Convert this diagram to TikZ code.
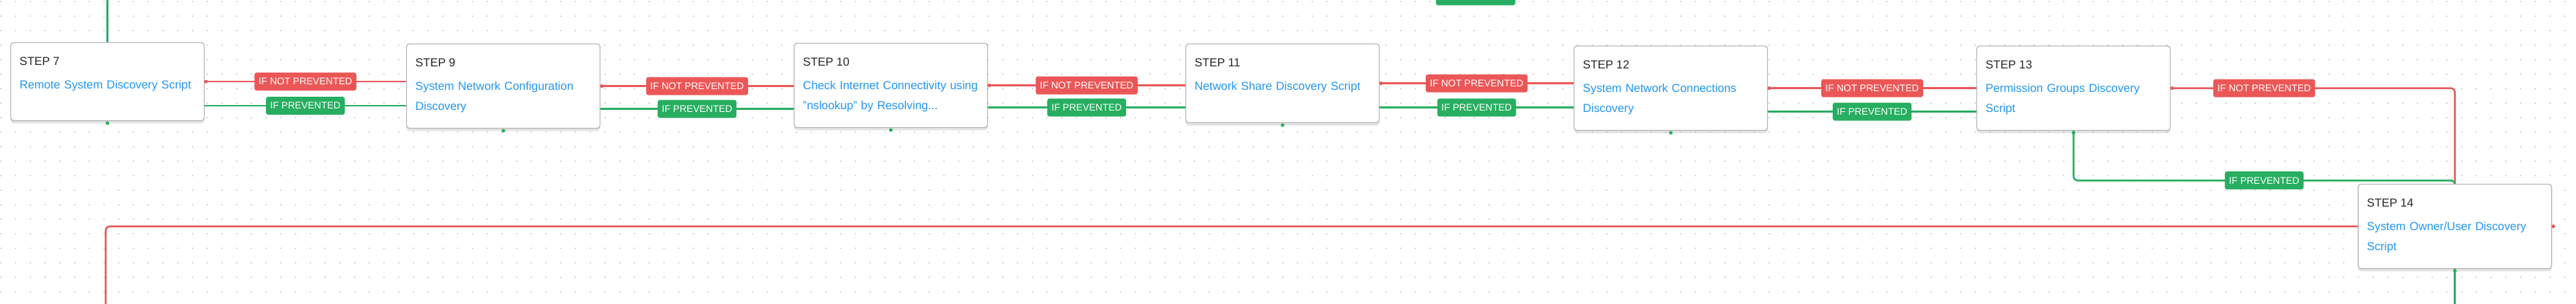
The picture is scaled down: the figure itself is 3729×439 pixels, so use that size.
\documentclass[tikz,border=0pt]{standalone}
\usepackage{fontspec}
\setmainfont{Liberation Sans}
\usepackage{xcolor}
\definecolor{linkblue}{HTML}{2196F3}
\definecolor{okgreen}{HTML}{27AE60}
\definecolor{failred}{HTML}{EB5757}
\usetikzlibrary{calc,positioning,shadows}

\pgfdeclarelayer{dots}
\pgfdeclarelayer{wires}
\pgfsetlayers{dots,wires,main}

\begin{document}
\begin{tikzpicture}[x=0.5pt, y=-0.5pt,
    stepbox/.style={draw=black!30, line width=0.6pt, fill=white, rounded corners=2pt,
        minimum width=140pt, inner sep=0pt, anchor=north west,
        drop shadow={shadow xshift=0pt, shadow yshift=-2pt, opacity=0.22}},
    steptitle/.style={anchor=base west, inner sep=0pt, text=black!85, font=\fontsize{8.4}{10}\selectfont},
    stepdesc/.style={anchor=base west, inner sep=0pt, text=linkblue, text width=135pt, align=left,
        font=\fontsize{8.4}{14.5}\selectfont},
    wire/.style={line width=1.3pt, rounded corners=3pt},
    redwire/.style={wire, failred},
    greenwire/.style={wire, okgreen},
    tag/.style={text=white, font=\fontsize{7}{8}\selectfont, inner xsep=3pt, inner ysep=0pt,
        minimum height=13pt, rounded corners=1.5pt},
    redtag/.style={tag, fill=failred},
    greentag/.style={tag, fill=okgreen}]
    		\useasboundingbox (0,0) rectangle (3729,439);

    		% Dotted canvas
    		\begin{pgfonlayer}{dots}
    			\fill[white] (0,0) rectangle (3729,439);
    			\foreach \i in {0,...,174}
    			\foreach \j in {0,...,20}
    			\fill[black!30] (1.3+21.33*\i, 2.3+21*\j) circle (0.45pt);
    		\end{pgfonlayer}

    		% Step boxes
    		\node[stepbox, minimum height=56.5pt] (s7) at (15,61) {};
    		\node[stepbox, minimum height=61pt] (s9) at (588,63) {};
    		\node[stepbox, minimum height=61pt] (s10) at (1149,62) {};
    		\node[stepbox, minimum height=57pt] (s11) at (1716,63) {};
    		\node[stepbox, minimum height=61pt] (s12) at (2278,66) {};
    		\node[stepbox, minimum height=61pt] (s13) at (2861,66) {};
    		\node[stepbox, minimum height=61pt] (s14) at (3413,266) {};

    		% Step texts
    		\node[steptitle] (t7) at ($(s7.north west)+(13,33)$) {STEP 7};
    		\node[stepdesc] (d7) at ($(s7.north west)+(13,67)$) {Remote System Discovery Script};
    		\node[steptitle] (t9) at ($(s9.north west)+(13,33)$) {STEP 9};
    		\node[stepdesc] (d9) at ($(s9.north west)+(13,67)$) {System Network Configuration\\Discovery};
    		\node[steptitle] (t10) at ($(s10.north west)+(13,33)$) {STEP 10};
    		\node[stepdesc] (d10) at ($(s10.north west)+(13,67)$) {Check Internet Connectivity using\\"nslookup" by Resolving...};
    		\node[steptitle] (t11) at ($(s11.north west)+(13,33)$) {STEP 11};
    		\node[stepdesc] (d11) at ($(s11.north west)+(13,67)$) {Network Share Discovery Script};
    		\node[steptitle] (t12) at ($(s12.north west)+(13,33)$) {STEP 12};
    		\node[stepdesc] (d12) at ($(s12.north west)+(13,67)$) {System Network Connections\\Discovery};
    		\node[steptitle] (t13) at ($(s13.north west)+(13,33)$) {STEP 13};
    		\node[stepdesc] (d13) at ($(s13.north west)+(13,67)$) {Permission Groups Discovery\\Script};
    		\node[steptitle] (t14) at ($(s14.north west)+(13,33)$) {STEP 14};
    		\node[stepdesc] (d14) at ($(s14.north west)+(13,67)$) {System Owner/User Discovery\\Script};

    		% Free ends of the wires
    		\coordinate (in7) at (s7.north |- 0,0);
    		\coordinate (g7) at ($(s7.east)+(0,35)$);
    		\coordinate (g9) at ($(s9.east)+(0,33)$);
    		\coordinate (g10) at ($(s10.east)+(0,32)$);
    		\coordinate (g11) at ($(s11.east)+(0,35)$);
    		\coordinate (g12) at ($(s12.east)+(0,34)$);
    		\coordinate (g13) at ($(s13.south)+(0,72)$);
    		\coordinate (out14r) at (153,470);
    		\coordinate (out14g) at (s14.south |- 0,470);

    		\begin{pgfonlayer}{wires}
    			% Wire from above, and the foot of a tag from the row above
    			\draw[greenwire] (in7) -- (s7.north);
    			\node[greentag, minimum width=57.5pt] (gtop) at (2136,-5.5) {};

    			% Step 7 -> Step 9
    			\draw[redwire] (s7.east) -- (s7.east -| s9.west) node[redtag, midway] (r7) {IF NOT PREVENTED};
    			\draw[greenwire] (g7) -- (g7 -| s9.west) node[greentag, midway] (p7) {IF PREVENTED};

    			% Step 9 -> Step 10
    			\draw[redwire] (s9.east) -- (s9.east -| s10.west) node[redtag, midway] (r9) {IF NOT PREVENTED};
    			\draw[greenwire] (g9) -- (g9 -| s10.west) node[greentag, midway] (p9) {IF PREVENTED};

    			% Step 10 -> Step 11
    			\draw[redwire] (s10.east) -- (s10.east -| s11.west) node[redtag, midway] (r10) {IF NOT PREVENTED};
    			\draw[greenwire] (g10) -- (g10 -| s11.west) node[greentag, midway] (p10) {IF PREVENTED};

    			% Step 11 -> Step 12
    			\draw[redwire] (s11.east) -- (s11.east -| s12.west) node[redtag, midway] (r11) {IF NOT PREVENTED};
    			\draw[greenwire] (g11) -- (g11 -| s12.west) node[greentag, midway] (p11) {IF PREVENTED};

    			% Step 12 -> Step 13
    			\draw[redwire] (s12.east) -- (s12.east -| s13.west) node[redtag, midway] (r12) {IF NOT PREVENTED};
    			\draw[greenwire] (g12) -- (g12 -| s13.west) node[greentag, midway] (p12) {IF PREVENTED};

    			% Step 13 -> Step 14 (down the right side)
    			\draw[redwire] (s13.east) -- (s13.east -| s14.north) -- (s14.north);
    			\node[redtag] (r13) at ($(s13.east)!0.5!(s13.east -| s14.west)$) {IF NOT PREVENTED};
    			\draw[greenwire] (s13.south) -- (g13) -- (g13 -| s14.north) -- (s14.north);
    			\node[greentag] (p13) at (g13 -| r13) {IF PREVENTED};

    			% Step 14 -> next row
    			\draw[redwire] (s14.east) -- (s14.east -| out14r) -- (out14r);
    			\draw[greenwire] (s14.south) -- (out14g);
    		\end{pgfonlayer}

    		% Ports
    		\foreach \s in {s7,s9,s10,s11,s12,s13,s14} {
    			\fill[failred] ($(\s.east)+(2,0)$) circle (1.3pt);
    			\fill[okgreen] ($(\s.south)+(0,3)$) circle (1.3pt);
    		}
    	\end{tikzpicture}
\end{document}
